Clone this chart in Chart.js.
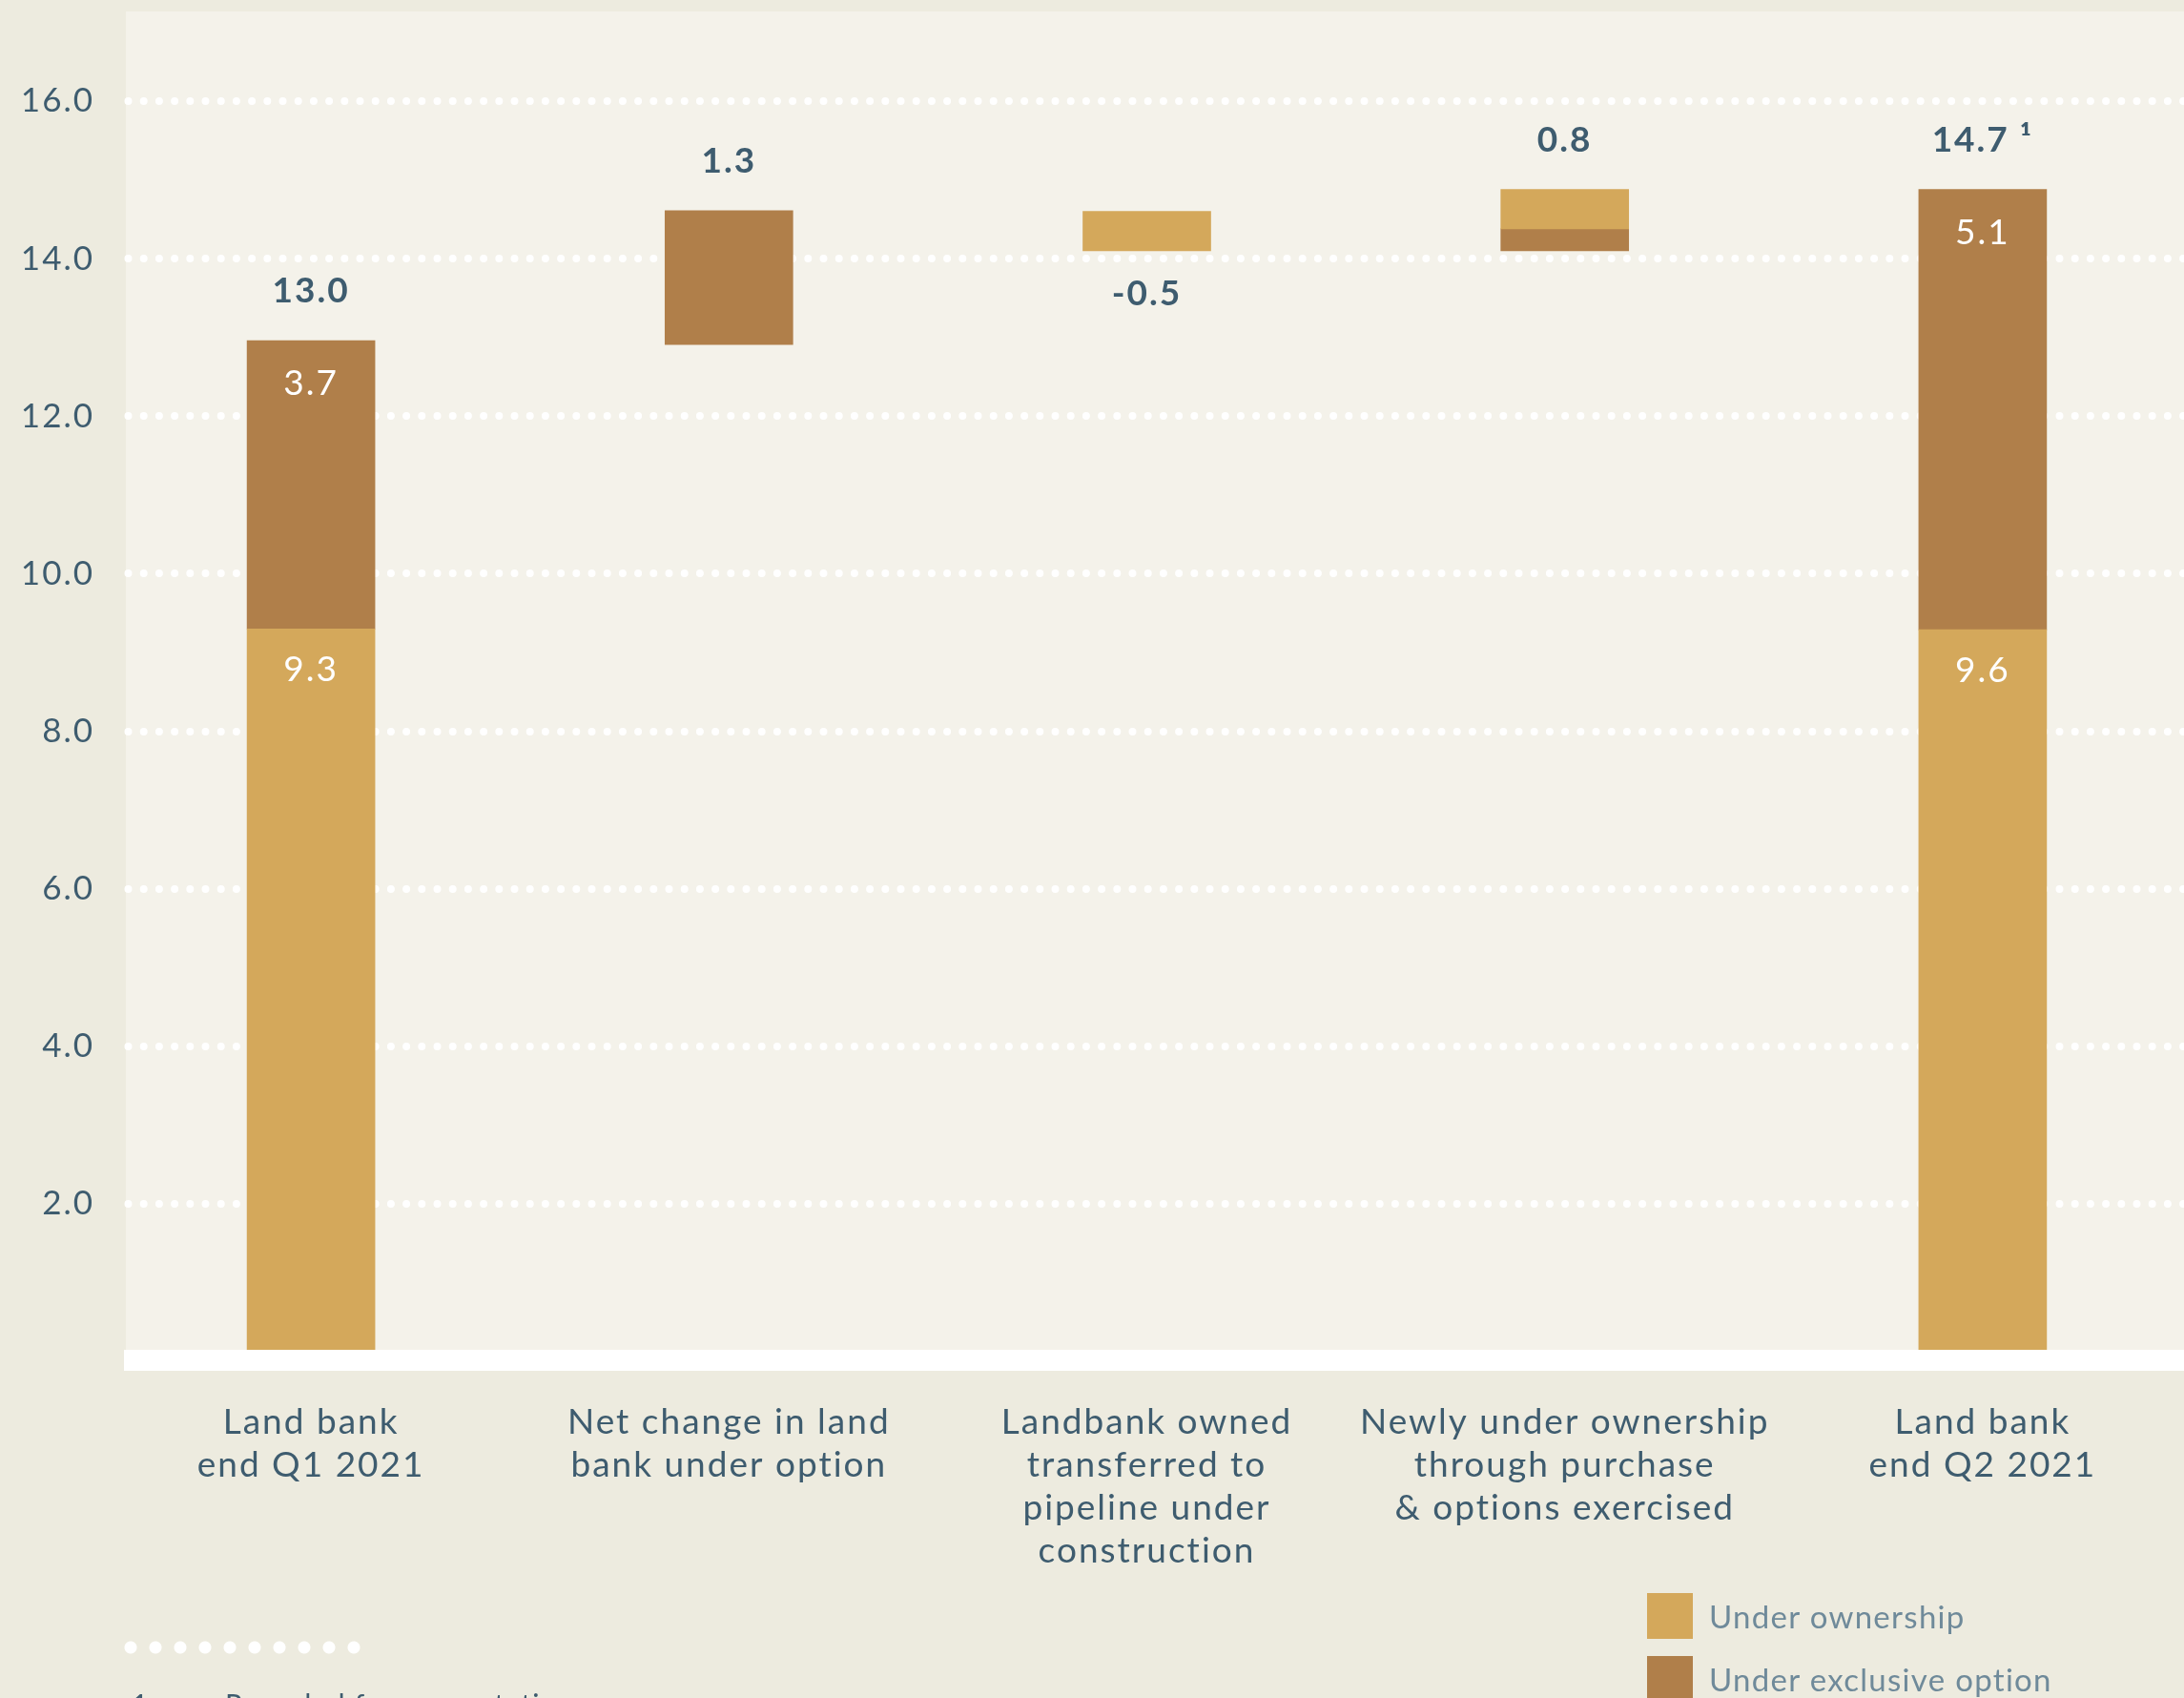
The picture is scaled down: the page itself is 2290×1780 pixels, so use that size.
<!DOCTYPE html>
<html>
<head>
<meta charset="utf-8">
<script src="https://cdn.jsdelivr.net/npm/chart.js@4.4.0/dist/chart.umd.min.js"></script>
<style>
  html, body { margin: 0; padding: 0; background: #EDEBDF; overflow: hidden; }
  body { width: 2290px; height: 1780px; position: relative; font-family: Lato, sans-serif; }
  #chart { position: absolute; left: 0; top: 0; }
  #legend { position: absolute; left: 1727px; top: 1670px; }
  .item { display: flex; align-items: center; height: 48px; margin-bottom: 18px; color: #6F8A9A; font-size: 33px; letter-spacing: 1.3px; white-space: nowrap; }
  .swatch { width: 48px; height: 48px; margin-right: 17px; flex: none; }
  #dots { position: absolute; left: 124px; top: 1720px; width: 260px; height: 14px;
    background: radial-gradient(circle, #fff 6px, rgba(255,255,255,0) 7px); background-size: 26px 14px; }
  .note { position: absolute; top: 1771px; font-size: 30px; line-height: 30px; letter-spacing: 1.3px; color: #3E5C6F; white-space: nowrap; }
</style>
</head>
<body>
<canvas id="chart" width="2298" height="1780"></canvas>
<div id="legend"></div>
<div id="dots"></div>
<div class="note" style="left:138px">1</div>
<div class="note" style="left:236px">Rounded for presentation</div>
<script>
const TEXT = '#3E5C6F';
const FONT = 'Lato, sans-serif';

const categories = [
  ['Land bank', 'end Q1 2021'],
  ['Net change in land', 'bank under option'],
  ['Landbank owned', 'transferred to', 'pipeline under', 'construction'],
  ['Newly under ownership', 'through purchase', '& options exercised'],
  ['Land bank', 'end Q2 2021']
];
const seriesNames = ['Under ownership', 'Under exclusive option'];
const seriesColors = ['#D4A85B', '#B07F4A'];

// floating segments [from, to] as drawn
const ownership = [[0, 9.3], null, [14.1, 14.6], [14.38, 14.88], [0, 9.29]];
const exclusiveOption = [[9.3, 12.96], [12.91, 14.61], null, [14.1, 14.38], [9.29, 14.88]];

const totalLabels = ['13.0', '1.3', '-0.5', '0.8', '14.7 ¹'];
const ownershipLabels = ['9.3', '', '', '', '9.6'];
const optionLabels = ['3.7', '', '', '', '5.1'];

const yTicks = [2, 4, 6, 8, 10, 12, 14, 16];

const backdrop = {
  id: 'backdrop',
  beforeDraw(chart) {
    const {ctx, chartArea, scales: {y}} = chart;
    const zero = y.getPixelForValue(0);
    ctx.save();
    ctx.fillStyle = '#F4F2EA';
    ctx.fillRect(chartArea.left + 25, chartArea.top, chart.width, zero + 10 - chartArea.top);
    ctx.strokeStyle = '#ffffff';
    ctx.lineWidth = 8;
    ctx.lineCap = 'round';
    ctx.setLineDash([0, 16.2]);
    yTicks.forEach(v => {
      const py = Math.round(y.getPixelForValue(v));
      ctx.beginPath();
      ctx.moveTo(chartArea.left + 27.5, py);
      ctx.lineTo(chart.width, py);
      ctx.stroke();
    });
    ctx.restore();
    // the original type is a little wider than Lato
    ctx.letterSpacing = '2px';
  },
  afterDatasetsDraw(chart) {
    const {ctx, chartArea, scales: {x, y}} = chart;
    const zero = y.getPixelForValue(0);
    ctx.save();
    ctx.fillStyle = '#ffffff';
    ctx.fillRect(chartArea.left + 23, zero - 12, chart.width, 22);

    ctx.textAlign = 'center';
    ctx.textBaseline = 'middle';
    categories.forEach((c, i) => {
      const px = x.getPixelForValue(i);
      const segs = [ownership[i], exclusiveOption[i]].filter(Boolean);
      const top = Math.max(...segs.map(s => s[1]));
      const bottom = Math.min(...segs.map(s => s[0]));
      ctx.fillStyle = TEXT;
      ctx.font = 'bold 37px ' + FONT;
      if (parseFloat(totalLabels[i]) < 0) {
        ctx.fillText(totalLabels[i], px, y.getPixelForValue(bottom) + 45);
      } else {
        ctx.fillText(totalLabels[i], px, y.getPixelForValue(top) - 52);
      }
      ctx.fillStyle = '#ffffff';
      ctx.font = '37px ' + FONT;
      if (ownershipLabels[i]) ctx.fillText(ownershipLabels[i], px, y.getPixelForValue(ownership[i][1]) + 43);
      if (optionLabels[i]) ctx.fillText(optionLabels[i], px, y.getPixelForValue(exclusiveOption[i][1]) + 45);
    });
    ctx.restore();
  }
};

const chart = new Chart(document.getElementById('chart'), {
  type: 'bar',
  data: {
    labels: categories,
    datasets: [
      {label: seriesNames[0], data: ownership, backgroundColor: seriesColors[0], barThickness: 134},
      {label: seriesNames[1], data: exclusiveOption, backgroundColor: seriesColors[1], barThickness: 134}
    ]
  },
  options: {
    responsive: false,
    animation: false,
    layout: {padding: {top: 12, left: 0, right: 0, bottom: 0}},
    plugins: {legend: {display: false}, tooltip: {enabled: false}},
    scales: {
      x: {
        stacked: true,
        afterFit: s => { s.height = 353; s.paddingLeft = 0; s.paddingRight = 0; },
        grid: {display: false, drawTicks: false},
        border: {display: false},
        ticks: {padding: 42, color: TEXT, autoSkip: false, maxRotation: 0,
          font: {family: FONT, size: 37, lineHeight: 1.21}}
      },
      y: {
        min: 0,
        max: 17.14,
        afterBuildTicks: s => { s.ticks = yTicks.map(v => ({value: v})); },
        afterFit: s => { s.width = 107; s.paddingTop = 0; s.paddingBottom = 0; },
        grid: {display: false, drawTicks: false},
        border: {display: false},
        ticks: {padding: 8, color: TEXT, font: {family: FONT, size: 35},
          callback: v => Number(v).toFixed(1)}
      }
    }
  },
  plugins: [backdrop]
});

const legend = document.getElementById('legend');
chart.data.datasets.forEach(ds => {
  const item = document.createElement('div');
  item.className = 'item';
  const sw = document.createElement('div');
  sw.className = 'swatch';
  sw.style.background = ds.backgroundColor;
  const label = document.createElement('span');
  label.textContent = ds.label;
  item.appendChild(sw);
  item.appendChild(label);
  legend.appendChild(item);
});
</script>
</body>
</html>
